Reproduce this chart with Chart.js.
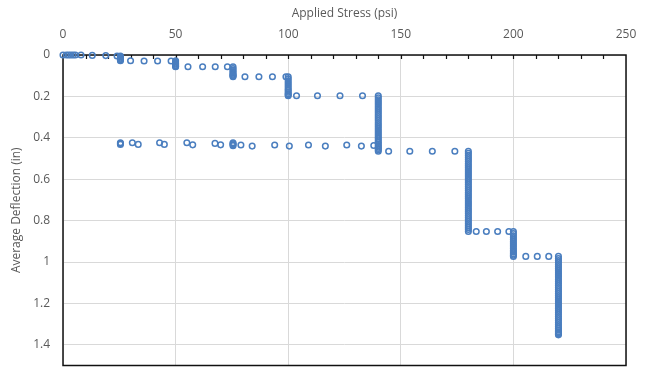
<!DOCTYPE html>
<html>
<head>
<meta charset="utf-8">
<script src="https://cdn.jsdelivr.net/npm/chart.js@4/dist/chart.umd.min.js"></script>
<style>
  html, body { margin: 0; padding: 0; background: #fff; overflow: hidden; }
  canvas { display: block; }
</style>
</head>
<body>
<canvas id="chart" width="648" height="371"></canvas>
<script>
// ramp readings (stress going up between holds) - first run
const rampStress = [0, 1.5, 2.5, 3.5, 4.5, 5.5, 8, 13, 19, 24,
    30, 36, 42, 48,
    55.5, 62, 67.6, 73,
    80.8, 87, 93, 99,
    103.7, 113, 123, 133,
    144.6, 154, 164, 174,
    183.5, 188, 193, 198,
    205.5, 210.6, 215.7];
const rampDefl = [0, 0, 0, 0, 0, 0, 0, 0.002, 0.003, 0.005,
    0.028, 0.029, 0.029, 0.029,
    0.057, 0.057, 0.057, 0.057,
    0.105, 0.105, 0.105, 0.105,
    0.197, 0.197, 0.197, 0.197,
    0.465, 0.465, 0.465, 0.465,
    0.853, 0.853, 0.853, 0.853,
    0.973, 0.973, 0.973];

// hold readings (constant stress) - first run
const holdStress = [25.5, 50, 75.5, 100, 140, 180, 200, 220];
const holdDefl = [
    [0.005, 0.01, 0.015, 0.02, 0.024, 0.028],
    [0.028, 0.034, 0.04, 0.045, 0.05, 0.054, 0.057],
    [0.057, 0.065, 0.073, 0.08, 0.087, 0.093, 0.098, 0.102, 0.105],
    [0.105, 0.115, 0.125, 0.135, 0.145, 0.155, 0.164, 0.172, 0.18, 0.187, 0.192, 0.197],
    [0.197, 0.207, 0.217, 0.227, 0.237, 0.247, 0.257, 0.267, 0.277, 0.287, 0.297, 0.307, 0.317,
     0.327, 0.337, 0.347, 0.357, 0.367, 0.377, 0.387, 0.396, 0.405, 0.414, 0.422, 0.43, 0.438,
     0.445, 0.452, 0.458, 0.465],
    [0.465, 0.475, 0.485, 0.495, 0.505, 0.515, 0.525, 0.535, 0.545, 0.555, 0.565, 0.575, 0.585,
     0.595, 0.605, 0.615, 0.625, 0.635, 0.645, 0.655, 0.665, 0.675, 0.685, 0.695, 0.705, 0.715,
     0.725, 0.735, 0.745, 0.755, 0.765, 0.775, 0.785, 0.795, 0.805, 0.815, 0.825, 0.834, 0.843, 0.853],
    [0.853, 0.863, 0.873, 0.883, 0.893, 0.903, 0.913, 0.923, 0.933, 0.943, 0.952, 0.96, 0.967, 0.973],
    [0.973, 0.983, 0.993, 1.003, 1.013, 1.023, 1.033, 1.043, 1.053, 1.063, 1.073, 1.083, 1.093,
     1.103, 1.113, 1.123, 1.133, 1.143, 1.153, 1.163, 1.173, 1.183, 1.193, 1.203, 1.213, 1.223,
     1.233, 1.243, 1.253, 1.263, 1.273, 1.283, 1.293, 1.303, 1.313, 1.322, 1.33, 1.337, 1.343,
     1.348, 1.352]
];

// second run (lower row)
const ramp2Stress = [30.8, 33.4, 42.9, 45, 55, 57.6, 67.5, 70, 79, 84, 94, 100.5, 109, 116.5, 126, 132.5, 138];
const ramp2Defl = [0.424, 0.432, 0.424, 0.432, 0.424, 0.434, 0.427, 0.434, 0.435, 0.44, 0.435, 0.44, 0.435, 0.44, 0.435, 0.44, 0.437];
const hold2Stress = [25.5, 75.5];
const hold2Defl = [
    [0.424, 0.428, 0.432],
    [0.424, 0.429, 0.434, 0.438]
];

const xTicks = [0, 50, 100, 150, 200, 250];
const yTicks = [0, 0.2, 0.4, 0.6, 0.8, 1, 1.2, 1.4];

const blue = '#4a7ebf';
const grey = '#595959';

function toPoints(rs, rd, hs, hd) {
    const pts = rs.map((x, i) => ({ x: x, y: rd[i] }));
    hs.forEach((x, i) => hd[i].forEach(y => pts.push({ x: x, y: y })));
    return pts;
}

// frame + small inward ticks on the top axis
const frame = {
    id: 'frame',
    beforeDatasetsDraw(chart) {
        const { ctx, chartArea: a } = chart;
        const xs = chart.scales.x;
        ctx.save();
        ctx.strokeStyle = '#111';
        ctx.lineWidth = 1.2;
        for (let v = 10; v < 250; v += 10) {
            const px = Math.round(xs.getPixelForValue(v)) + 0.5;
            ctx.beginPath();
            ctx.moveTo(px, a.top);
            ctx.lineTo(px, a.top + 4);
            ctx.stroke();
        }
        ctx.lineWidth = 1.5;
        ctx.strokeRect(a.left, a.top, a.right - a.left, a.bottom - a.top);
        ctx.restore();
    }
};

const font = { family: 'Open Sans', size: 12 };

new Chart(document.getElementById('chart'), {
    type: 'scatter',
    data: {
        datasets: [{
            label: 'Run 1',
            data: toPoints(rampStress, rampDefl, holdStress, holdDefl),
            borderColor: blue,
            backgroundColor: 'rgba(0,0,0,0)',
            pointRadius: 2.8,
            pointBorderWidth: 1.5,
            clip: false
        }, {
            label: 'Run 2',
            data: toPoints(ramp2Stress, ramp2Defl, hold2Stress, hold2Defl),
            borderColor: blue,
            backgroundColor: 'rgba(0,0,0,0)',
            pointRadius: 2.8,
            pointBorderWidth: 1.5,
            clip: false
        }]
    },
    options: {
        responsive: false,
        animation: false,
        layout: { padding: { left: 0, top: 0, right: 22, bottom: -3 } },
        plugins: {
            legend: { display: false },
            tooltip: { enabled: false }
        },
        scales: {
            x: {
                type: 'linear',
                position: 'top',
                min: 0,
                max: 250,
                afterBuildTicks: s => { s.ticks = xTicks.map(v => ({ value: v })); },
                afterFit: s => { s.height = 55; s.paddingLeft = 0; s.paddingRight = 0; },
                ticks: { color: grey, font: font, padding: 13, maxRotation: 0 },
                grid: { color: '#d9d9d9', drawTicks: false },
                border: { display: false },
                title: { display: true, text: 'Applied Stress (psi)', color: grey, font: font, padding: { top: 6, bottom: 0 } }
            },
            y: {
                type: 'linear',
                reverse: true,
                min: 0,
                max: 1.5,
                afterBuildTicks: s => { s.ticks = yTicks.map(v => ({ value: v })); },
                afterFit: s => { s.width = 63; s.paddingTop = 0; s.paddingBottom = 0; },
                ticks: { color: grey, font: font, padding: 13, callback: v => String(+v.toFixed(2)) },
                grid: { color: '#d9d9d9', drawTicks: false },
                border: { display: false },
                title: { display: true, text: 'Average Deflection (in)', color: grey, font: font, padding: { top: 9, bottom: 0 } }
            }
        }
    },
    plugins: [frame]
});
</script>
</body>
</html>
